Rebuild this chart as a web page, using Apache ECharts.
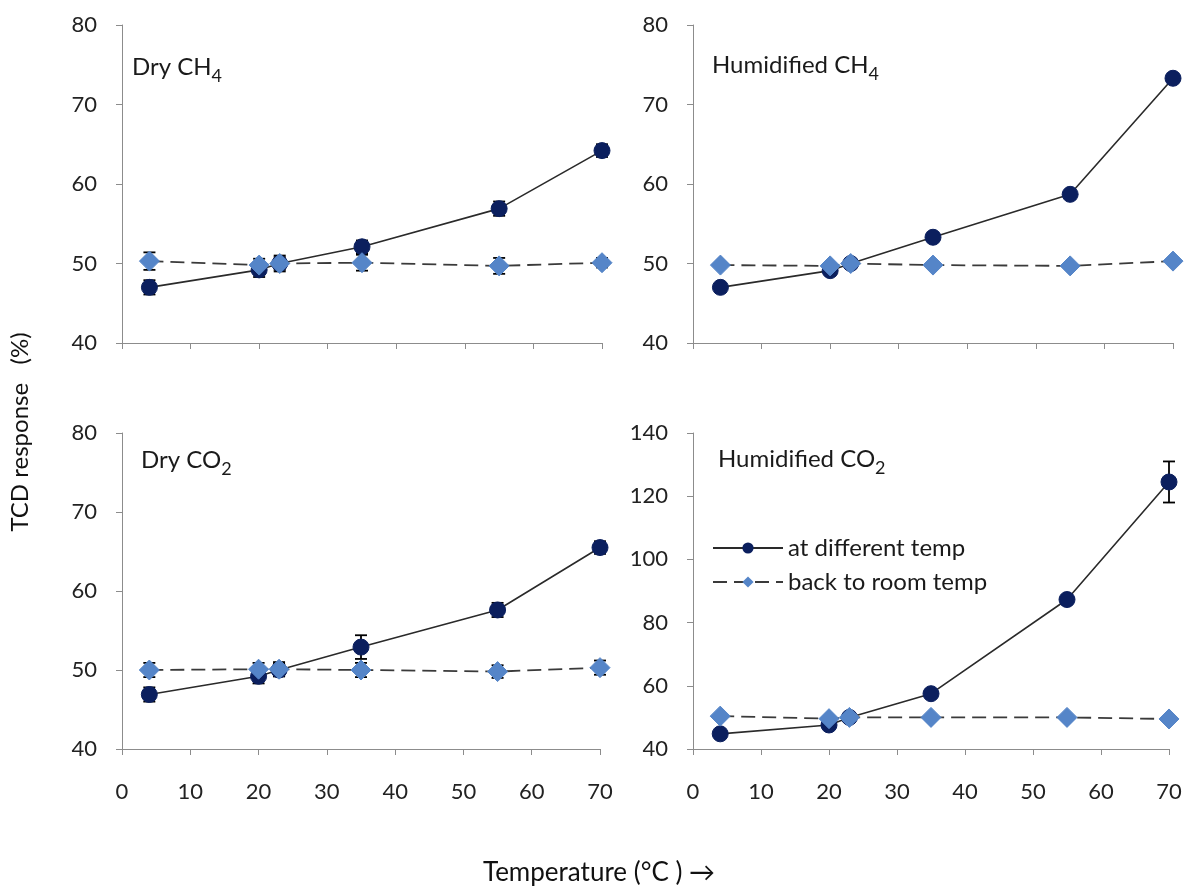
<!DOCTYPE html>
<html>
<head>
<meta charset="utf-8">
<script src="https://cdn.jsdelivr.net/npm/echarts@6/dist/echarts.min.js"></script>
<style>
html,body{margin:0;padding:0;background:#fff;}
#main{width:1185px;height:886px;}
</style>
</head>
<body>
<div id="main"></div>
<script>
// ---- data ----
var temps = [4, 20, 23, 35, 55, 70];
var xTicks = [0, 10, 20, 30, 40, 50, 60, 70];

var dryCH4Diff = [47.0, 49.2, 50.0, 52.1, 56.9, 64.2];
var dryCH4DiffErr = [0.9, 0.9, 0.8, 0.8, 0.9, 0.8];
var dryCH4Room = [50.3, 49.8, 50.0, 50.1, 49.7, 50.1];
var dryCH4RoomErr = [1.1, 0.8, 1.0, 1.0, 1.0, 0.6];

var humCH4Diff = [47.0, 49.1, 50.0, 53.3, 58.7, 73.3];
var humCH4DiffErr = [0.3, 0.4, 0.3, 0.3, 0.3, 0.3];
var humCH4Room = [49.8, 49.7, 50.0, 49.8, 49.7, 50.3];
var humCH4RoomErr = [0.2, 0.2, 0.2, 0.2, 0.2, 0.2];

var dryCO2Diff = [46.9, 49.2, 50.0, 52.9, 57.6, 65.5];
var dryCO2DiffErr = [0.9, 0.9, 0.8, 1.5, 0.9, 0.8];
var dryCO2Room = [50.0, 50.1, 50.1, 50.0, 49.8, 50.3];
var dryCO2RoomErr = [0.9, 0.8, 0.9, 0.9, 0.8, 0.9];

var humCO2Diff = [44.8, 47.6, 50.0, 57.5, 87.3, 124.5];
var humCO2DiffErr = [0.8, 0.8, 0.8, 0.8, 0.8, 6.5];
var humCO2Room = [50.4, 49.6, 50.0, 50.0, 50.0, 49.5];
var humCO2RoomErr = [0.5, 0.5, 0.5, 0.5, 0.5, 0.5];

var titleMain = ['Dry CH', 'Humidified CH', 'Dry CO', 'Humidified CO'];
var titleSub = ['4', '4', '2', '2'];
var seriesNames = ['at different temp', 'back to room temp'];
var yLabel = 'TCD response   (%)';
var xLabel = 'Temperature (\u00b0C ) \u2192';

// ---- build ----
var FONT = 'Lato, "Open Sans", sans-serif';
var axisGray = '#8c8c8c';
var navy = '#0b1f5e';
var lightBlue = '#5585c8';

var panels = [
  {diff: dryCH4Diff, diffErr: dryCH4DiffErr, room: dryCH4Room, roomErr: dryCH4RoomErr, ymin: 40, ymax: 80, yint: 10, labels: false},
  {diff: humCH4Diff, diffErr: humCH4DiffErr, room: humCH4Room, roomErr: humCH4RoomErr, ymin: 40, ymax: 80, yint: 10, labels: false},
  {diff: dryCO2Diff, diffErr: dryCO2DiffErr, room: dryCO2Room, roomErr: dryCO2RoomErr, ymin: 40, ymax: 80, yint: 10, labels: true},
  {diff: humCO2Diff, diffErr: humCO2DiffErr, room: humCO2Room, roomErr: humCO2RoomErr, ymin: 40, ymax: 140, yint: 20, labels: true}
];

var grids = [
  {left: 122, top: 25, width: 480, height: 318},
  {left: 693, top: 25, width: 480, height: 318},
  {left: 122, top: 433, width: 478, height: 316},
  {left: 693, top: 433, width: 476, height: 316}
];

var titlePos = [[132, 55], [712, 53], [141, 448], [718, 447]];

var xAxes = [], yAxes = [], series = [], graphics = [];

function errItem(x, v, e) { return [x, v - e, v + e]; }

function errRender(params, api) {
  var x = api.value(0);
  var lo = api.coord([x, api.value(1)]);
  var hi = api.coord([x, api.value(2)]);
  var w = 6;
  var st = {stroke: '#000', lineWidth: 1.8};
  return {
    type: 'group',
    children: [
      {type: 'line', shape: {x1: lo[0], y1: lo[1], x2: hi[0], y2: hi[1]}, style: st},
      {type: 'line', shape: {x1: lo[0] - w, y1: lo[1], x2: lo[0] + w, y2: lo[1]}, style: st},
      {type: 'line', shape: {x1: hi[0] - w, y1: hi[1], x2: hi[0] + w, y2: hi[1]}, style: st}
    ]
  };
}

panels.forEach(function (p, i) {
  xAxes.push({
    type: 'value', gridIndex: i, min: 0, max: 70, interval: 10,
    axisLine: {show: true, lineStyle: {color: axisGray, width: 1}},
    axisTick: {show: true, length: 6, lineStyle: {color: axisGray}},
    splitLine: {show: false},
    axisLabel: {show: p.labels, margin: 32, fontSize: 22, color: '#222', fontFamily: FONT}
  });
  yAxes.push({
    type: 'value', gridIndex: i, min: p.ymin, max: p.ymax, interval: p.yint,
    axisLine: {show: true, lineStyle: {color: axisGray, width: 1}},
    axisTick: {show: true, length: 6, lineStyle: {color: axisGray}},
    splitLine: {show: false},
    axisLabel: {margin: 25, fontSize: 22, color: '#222', fontFamily: FONT}
  });
  var diffErrData = temps.map(function (t, k) { return errItem(t, p.diff[k], p.diffErr[k]); });
  var roomErrData = temps.map(function (t, k) { return errItem(t, p.room[k], p.roomErr[k]); });
  series.push({
    type: 'custom', xAxisIndex: i, yAxisIndex: i, renderItem: errRender,
    data: diffErrData, z: 1, silent: true,
    encode: {x: 0, y: [1, 2]}
  });
  series.push({
    type: 'custom', xAxisIndex: i, yAxisIndex: i, renderItem: errRender,
    data: roomErrData, z: 1, silent: true,
    encode: {x: 0, y: [1, 2]}
  });
  series.push({
    name: seriesNames[0], type: 'line', xAxisIndex: i, yAxisIndex: i,
    data: temps.map(function (t, k) { return [t, p.diff[k]]; }),
    symbol: 'circle', symbolSize: 16,
    itemStyle: {color: navy, borderColor: navy},
    lineStyle: {color: '#2a2a2a', width: 1.6, type: 'solid'},
    z: 3, animation: false
  });
  series.push({
    name: seriesNames[1], type: 'line', xAxisIndex: i, yAxisIndex: i,
    data: temps.map(function (t, k) { return [t, p.room[k]]; }),
    symbol: 'diamond', symbolSize: [20, 20],
    itemStyle: {color: lightBlue, borderColor: lightBlue},
    lineStyle: {color: '#3a3a3a', width: 1.8, type: [14, 7]},
    z: 4, animation: false
  });
  graphics.push({
    type: 'text', left: titlePos[i][0], top: titlePos[i][1],
    style: {
      text: '{m|' + titleMain[i] + '}{s|' + titleSub[i] + '}',
      fill: '#1a1a1a', fontFamily: FONT,
      rich: {
        m: {fontSize: 24, lineHeight: 28, verticalAlign: 'top', fontFamily: FONT, fill: '#1a1a1a'},
        s: {fontSize: 18, lineHeight: 18, verticalAlign: 'top', padding: [12, 0, 0, 0], fontFamily: FONT, fill: '#1a1a1a'}
      }
    }
  });
});

graphics.push({
  type: 'text', x: 20, y: 432, rotation: Math.PI / 2,
  style: {text: yLabel, fontSize: 24, fill: '#111', fontFamily: FONT, textAlign: 'center', textVerticalAlign: 'middle'}
});
graphics.push({
  type: 'text', x: 599, y: 873,
  style: {text: xLabel, fontSize: 26, fill: '#111', fontFamily: FONT, textAlign: 'center', textVerticalAlign: 'middle'}
});

var option = {
  backgroundColor: '#fff',
  animation: false,
  grid: grids,
  xAxis: xAxes,
  yAxis: yAxes,
  series: series,
  legend: {
    show: true,
    data: seriesNames,
    orient: 'vertical',
    left: 707, top: 531,
    itemWidth: 70, itemHeight: 14, itemGap: 10,
    textStyle: {fontSize: 24, color: '#1a1a1a', fontFamily: FONT}
  },
  graphic: graphics
};

var chart = echarts.init(document.getElementById('main'), null, {renderer: 'canvas'});
chart.setOption(option);
</script>
</body>
</html>
